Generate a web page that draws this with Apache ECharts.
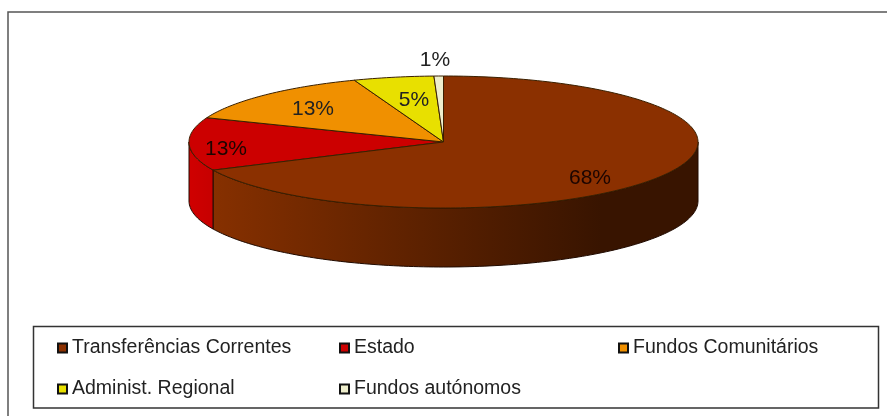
<!DOCTYPE html>
<html><head><meta charset="utf-8">
<style>html,body{margin:0;padding:0;background:#fff}#c{width:887px;height:416px}</style>
<script src="https://cdn.jsdelivr.net/npm/echarts@6/dist/echarts.min.js"></script>
</head><body><div id="c"></div>
<script>
const categories = ['Transferências Correntes','Estado','Fundos Comunitários','Administ. Regional','Fundos autónomos'];
const values = [68, 13, 13.3, 5.1, 0.6];
const pctLabels = ['68%','13%','13%','5%','1%'];
const colors = ['#8b3000','#cc0000','#f09000','#e8e000','#eeeecc'];
const sideFrom = ['#863000','#d00000','#f09000','#e8e000','#eeeecc'];
const sideTo = ['#381400','#c80000','#b06800','#a8a000','#aaa'];
const legendX = [57,339,618,57,339];
const legendY = [338,338,338,379,379];
const labelPos = [[590,178],[226,149],[313,109],[414,100],[435,60]];

const geo = {cx:443.5, cy:142, rx:254.5, ry:66, depth:59};
const total = values.reduce((a,b)=>a+b,0);
let acc = 0;
const spans = values.map(v=>{const s=acc; acc+=v; return [s/total*2*Math.PI,acc/total*2*Math.PI];});
const pt = (t,dy)=>[geo.cx+geo.rx*Math.sin(t), geo.cy-geo.ry*Math.cos(t)+(dy||0)];
function arc(a,b,dy){const n=Math.max(2,Math.ceil((b-a)/0.02));const r=[];for(let i=0;i<=n;i++)r.push(pt(a+(b-a)*i/n,dy));return r;}

function renderSlice(idx){
  return function(params,api){
    const [a,b]=spans[idx];
    const children=[];
    const fa=Math.max(a,Math.PI/2), fb=Math.min(b,Math.PI*1.5);
    if(fb>fa){
      const top=arc(fa,fb,0), bottom=arc(fa,fb,geo.depth).reverse();
      children.push({type:'polygon',z2:1,shape:{points:top.concat(bottom)},
        style:{fill:new echarts.graphic.LinearGradient(1,0,0,0,[{offset:0,color:sideTo[idx]},{offset:0.2,color:sideTo[idx]},{offset:1,color:sideFrom[idx]}]),stroke:'#200a00',lineWidth:1}});
    }
    children.push({type:'polygon',z2:2,shape:{points:[[geo.cx,geo.cy]].concat(arc(a,b,0))},
      style:{fill:colors[idx],stroke:'#3a2000',lineWidth:1,lineJoin:'round'}});
    children.push({type:'text',z2:3,x:labelPos[idx][0],y:labelPos[idx][1],
      style:{text:pctLabels[idx],fill:idx===0||idx===1?'#1c0500':'#222',font:'21px "Liberation Sans", Arial',align:'center',verticalAlign:'middle'}});
    return {type:'group',children};
  };
}
const series=categories.map((n,i)=>({
  type:'custom',name:n,coordinateSystem:'none',silent:true,animation:false,
  clip:false,data:[[values[i]]],itemStyle:{color:colors[i]},renderItem:renderSlice(i),z:i===0?3:2
}));
const legend=categories.map((n,i)=>({
  data:[n],left:legendX[i],top:legendY[i],padding:0,orient:'horizontal',
  itemWidth:9,itemHeight:9,icon:'rect',selectedMode:false,
  itemStyle:{borderColor:'#111',borderWidth:2},
  textStyle:{fontFamily:'"Liberation Sans", Arial',fontSize:19.5,color:'#222'}
}));
const chart=echarts.init(document.getElementById('c'),null,{renderer:'canvas'});
chart.setOption({
  animation:false,backgroundColor:'#fff',
  legend,series,
  graphic:[
    {type:'rect',z:-1,shape:{x:8,y:12,width:1000,height:1000},style:{fill:'none',stroke:'#555',lineWidth:1.5}},
    {type:'rect',z:-1,shape:{x:33.5,y:326.5,width:845,height:81.5},style:{fill:'#fff',stroke:'#333',lineWidth:1.5}}
  ]
});
</script></body></html>
